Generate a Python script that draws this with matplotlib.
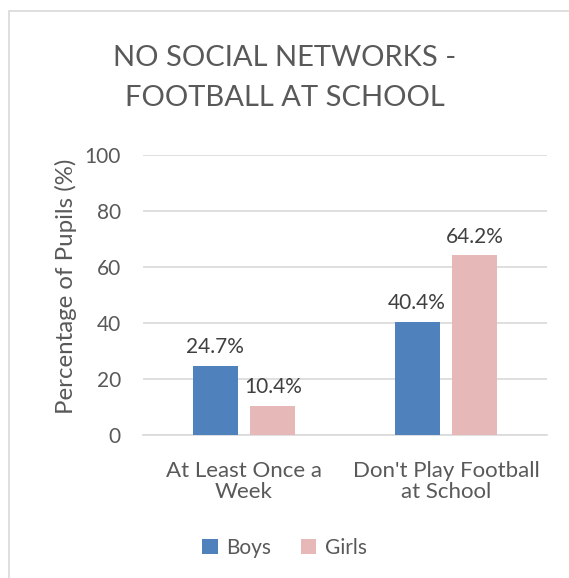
import matplotlib
matplotlib.use("Agg")
import matplotlib.pyplot as plt
from matplotlib.patches import Rectangle
import numpy as np

categories = ["At Least Once a\nWeek", "Don't Play Football\nat School"]
series_names = ["Boys", "Girls"]
boys = [24.7, 40.4]
girls = [10.4, 64.2]
yticks = [0, 20, 40, 60, 80, 100]
colors = ["#4F81BD", "#E6B9B8"]

plt.rcParams['font.family'] = ['Lato', 'DejaVu Sans']
W, H = 569, 578
fig = plt.figure(figsize=(W/100, H/100), dpi=100)
fig.patch.set_facecolor("white")
# outer chart border (left/top visible, right/bottom clipped)
fig.add_artist(Rectangle((9/W, -0.1), 1.2, 1.1 - 11/H, transform=fig.transFigure,
                         fill=False, edgecolor="#D9D9D9", linewidth=1.2))

ax = fig.add_axes([143/W, 1-435/H, (547-143)/W, (435-155)/H])
x = np.arange(len(categories)) + 0.5
bw = 0.222
gap = 0.064
off = (bw + gap) / 2
b1 = ax.bar(x - off, boys, bw, color=colors[0], label=series_names[0], zorder=3)
b2 = ax.bar(x + off, girls, bw, color=colors[1], label=series_names[1], zorder=3)
for bars, vals in ((b1, boys), (b2, girls)):
    for r, v in zip(bars, vals):
        ax.text(r.get_x() + r.get_width()/2, v + 3, f"{v}%", ha="center", va="bottom",
                fontsize=15, color="#404040", zorder=4)

ax.set_xlim(0, 2)
ax.set_ylim(0, 100)
ax.set_yticks(yticks)
ax.set_yticklabels([str(t) for t in yticks])
ax.grid(axis="y", color="#D9D9D9", linewidth=1.2, zorder=0)
for s in ["top", "right", "left"]:
    ax.spines[s].set_visible(False)
ax.spines["bottom"].set_color("#D9D9D9")
ax.spines["bottom"].set_linewidth(1.2)
ax.tick_params(axis="y", length=0, labelsize=15, labelcolor="#595959", pad=16)
ax.set_xticks(x)
ax.set_xticklabels(categories, fontsize=16, color="#595959", linespacing=1.05)
ax.tick_params(axis="x", length=0, pad=19)
ax.set_ylabel("Percentage of Pupils (%)", fontsize=17.3, color="#595959")
ax.yaxis.set_label_coords((77-143)/404, (435-286)/280)

fig.text(0.5, 1-78/H, "NO SOCIAL NETWORKS -\nFOOTBALL AT SCHOOL", ha="center", va="center",
         fontsize=21, color="#595959", linespacing=1.7)

leg = fig.legend(handles=[b1, b2], labels=series_names, loc="center", bbox_to_anchor=(0.5, 1-548/H),
                 ncol=2, frameon=False, fontsize=15, handlelength=0.75, handleheight=0.75,
                 handletextpad=0.4, columnspacing=1.4)
for t in leg.get_texts():
    t.set_color("#595959")

fig.savefig("out.png", dpi=100)
